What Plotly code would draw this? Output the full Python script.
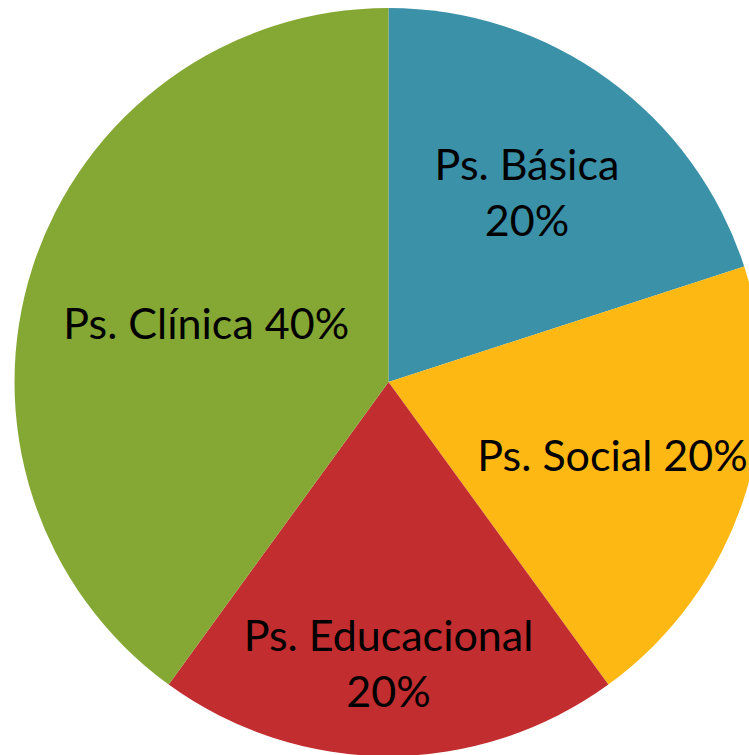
import plotly.graph_objects as go

labels = ["Ps. Básica", "Ps. Social", "Ps. Educacional", "Ps. Clínica"]
values = [20, 20, 20, 40]
line_breaks = [True, False, True, False]
colors = ["#3A91A8", "#FDB813", "#C22D30", "#85A834"]

total = sum(values)
texts = [f"{l}{'<br>' if b else ' '}{round(v / total * 100)}%" for l, v, b in zip(labels, values, line_breaks)]

W, H = 777, 764
cx, cy, r = 388.5, 382, 374

fig = go.Figure(go.Pie(
    labels=labels,
    values=values,
    text=texts,
    textinfo="text",
    textposition="inside",
    insidetextorientation="horizontal",
    sort=False,
    direction="clockwise",
    rotation=0,
    marker=dict(colors=colors, line=dict(width=0)),
    textfont=dict(family="Lato", size=43, color="black"),
    hoverinfo="label+percent",
    domain=dict(x=[(cx - r) / W, (cx + r) / W], y=[(H - (cy + r)) / H, (H - (cy - r)) / H]),
))
fig.update_layout(
    width=W, height=H,
    margin=dict(l=0, r=0, t=0, b=0),
    showlegend=False,
    paper_bgcolor="white",
    uniformtext=dict(minsize=43, mode="show"),
)
fig.write_html("out.html", config={"displayModeBar": False}, post_script="document.body.style.margin='0';document.body.style.overflow='hidden';document.documentElement.style.overflow='hidden';")
